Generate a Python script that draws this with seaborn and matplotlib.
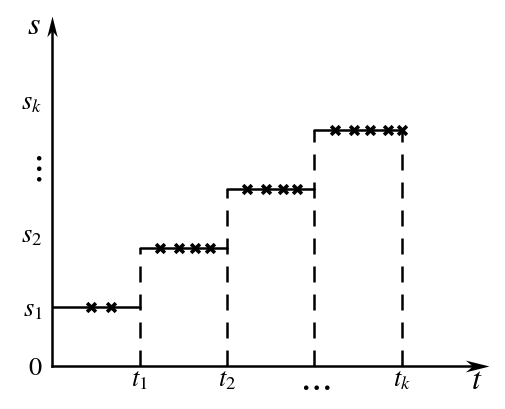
import numpy as np
import pandas as pd
import matplotlib
matplotlib.use("Agg")
import matplotlib.pyplot as plt
from matplotlib.path import Path
import seaborn as sns

# --- data ---
t_ticks = [1, 2, 3, 4]
t_labels = ['$t_1$', '$t_2$', r'$\cdots$', '$t_k$']
s_ticks = [0, 1, 2.25, 3.4, 4.5]
s_labels = ['$0$', '$s_1$', '$s_2$', r'$\vdots$', '$s_k$']

step_start = [0, 1, 2, 3]
step_end = [1, 2, 3, 4]
step_level = [1, 2, 3, 4]

dash_t = [1, 2, 3, 4]
dash_top = [2, 3, 4, 4]

cross_t = [0.45, 0.67, 1.23, 1.45, 1.64, 1.81, 2.23, 2.45, 2.64, 2.80,
           3.23, 3.45, 3.63, 3.84, 4.0]
cross_s = [1, 1, 2, 2, 2, 2, 3, 3, 3, 3, 4, 4, 4, 4, 4]

t_end = 5.0
s_end = 5.94

sns.set_theme(style="white")
plt.rcParams['font.family'] = ['Liberation Serif', 'DejaVu Sans']
plt.rcParams['mathtext.fontset'] = 'stix'

fig = plt.figure(figsize=(5.05, 4.10), dpi=100)
ax = fig.add_axes([52 / 505, 43 / 410, 443 / 505, 357 / 410])
ax.set_xlim(0, 443 / 87.5)
ax.set_ylim(0, 357 / 59)

lw = 1.8

# solid steps
steps = pd.DataFrame({
    't': [v for a, b in zip(step_start, step_end) for v in (a, b)],
    's': [v for v in step_level for _ in range(2)],
    'seg': [i for i in range(len(step_level)) for _ in range(2)],
})
sns.lineplot(data=steps, x='t', y='s', units='seg', estimator=None, sort=False,
             color='black', linewidth=lw, ax=ax)

# dashed verticals
dashed = pd.DataFrame({
    't': [v for v in dash_t for _ in range(2)],
    's': [v for top in dash_top for v in (0, top)],
    'seg': [i for i in range(len(dash_t)) for _ in range(2)],
})
sns.lineplot(data=dashed, x='t', y='s', units='seg', estimator=None, sort=False,
             color='black', linewidth=lw, linestyle=(0, (6.4, 4.8)), ax=ax)

# crosses
sns.scatterplot(x=cross_t, y=cross_s, marker='x', s=40, color='black',
                linewidth=2.6, ax=ax, zorder=3)

# axes with arrow heads
sns.despine(ax=ax)
for side in ['left', 'bottom']:
    ax.spines[side].set_color('black')
    ax.spines[side].set_linewidth(lw)
ax.spines['bottom'].set_bounds(0, t_end - 0.1)
ax.spines['left'].set_bounds(0, s_end - 0.15)

right_head = Path([(0, 0), (-2, 0.5), (-1.4, 0), (-2, -0.5), (0, 0)],
                  [Path.MOVETO, Path.LINETO, Path.LINETO, Path.LINETO, Path.CLOSEPOLY])
up_head = Path([(0, 0), (0.5, -2), (0, -1.4), (-0.5, -2), (0, 0)],
               [Path.MOVETO, Path.LINETO, Path.LINETO, Path.LINETO, Path.CLOSEPOLY])
ax.plot(t_end, 0, marker=right_head, markersize=34, color='black',
        markeredgewidth=0, clip_on=False)
ax.plot(0, s_end, marker=up_head, markersize=30, color='black',
        markeredgewidth=0, clip_on=False)

ax.set_xticks(t_ticks, t_labels)
ax.set_yticks(s_ticks, s_labels)
ax.tick_params(axis='both', length=0, labelsize=19, colors='black')
ax.tick_params(axis='x', pad=2)
ax.tick_params(axis='y', pad=7)
ax.get_xticklabels()[2].set_fontsize(26)
ax.get_yticklabels()[3].set_fontsize(26)

ax.set_xlabel('$t$', fontsize=23, color='black', va='center')
ax.xaxis.set_label_coords((477 - 52) / 443, -15 / 357)
ax.set_ylabel('$s$', fontsize=23, color='black', rotation=0, va='center', ha='center')
ax.yaxis.set_label_coords((34 - 52) / 443, (410 - 27 - 43) / 357)

fig.savefig("out.png", dpi=100)
